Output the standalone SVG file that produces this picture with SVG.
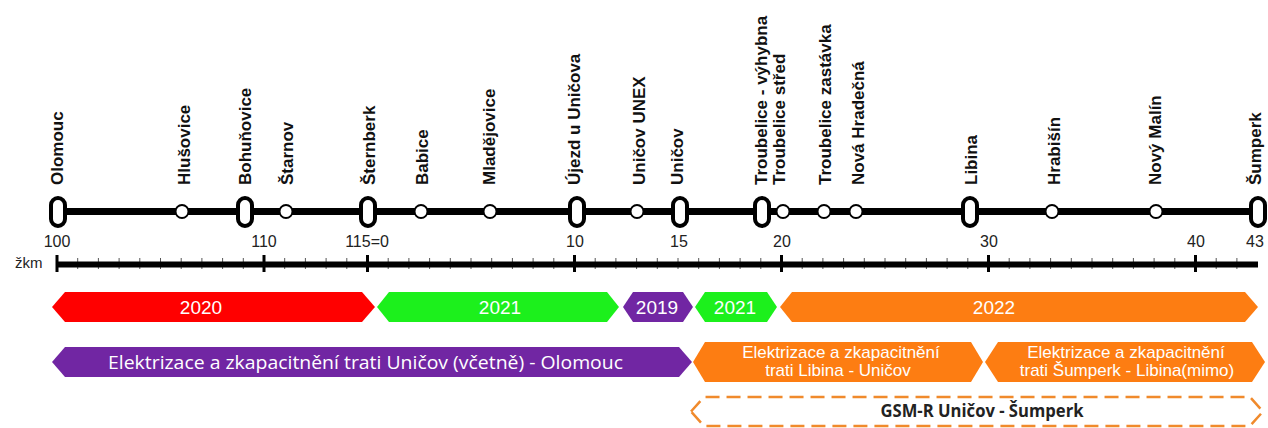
<svg xmlns="http://www.w3.org/2000/svg" width="1268" height="428" viewBox="0 0 1268 428">
<style>
.lbl{font-family:"Liberation Sans",Arial,sans-serif;font-weight:bold;font-size:17px;fill:#111}
.num{font-family:"Liberation Sans",Arial,sans-serif;font-size:16px;fill:#222;text-anchor:middle}
.oval{fill:#fff;stroke:#000;stroke-width:4}
.stop{fill:#fff;stroke:#000;stroke-width:2}
.yr{font-family:"Liberation Sans",Arial,sans-serif;font-size:19px;fill:#fff;text-anchor:middle}
.otx{font-family:"Liberation Sans",Arial,sans-serif;font-size:17px;fill:#fff;text-anchor:middle}
.red{fill:#ff0000}.grn{fill:#1cf01c}.pur{fill:#7126a3}.org{fill:#fd7d12}
.mj{stroke:#000;stroke-width:3}
.mn{stroke:#555;stroke-width:1}
</style>
<rect width="1268" height="428" fill="#fff"/>

<g id="connectors">
  <line x1="58" y1="211.5" x2="1258" y2="211.5" stroke="#000" stroke-width="7"/>
</g>

<g id="axis">
  <text x="15" y="268" style="font-family:'Liberation Sans',Arial,sans-serif;font-size:15px;fill:#222">žkm</text>
  <g id="minor-ticks">
    <path class="mn" d="M77.7 258V269M98.4 258V269M119.1 258V269M139.8 258V269M160.5 258V269M181.2 258V269M201.9 258V269M222.6 258V269M243.3 258V269M284.7 258V269M305.4 258V269M326.1 258V269M346.8 258V269M388.2 258V269M408.9 258V269M429.6 258V269M450.3 258V269M471 258V269M491.7 258V269M512.4 258V269M533.1 258V269M553.8 258V269M595.2 258V269M615.9 258V269M636.6 258V269M657.3 258V269M678 258V269M698.7 258V269M719.4 258V269M740.1 258V269M760.8 258V269M802.2 258V269M822.9 258V269M843.6 258V269M864.3 258V269M885 258V269M905.7 258V269M926.4 258V269M947.1 258V269M967.8 258V269M1009.2 258V269M1029.9 258V269M1050.6 258V269M1071.3 258V269M1092 258V269M1112.7 258V269M1133.4 258V269M1154.1 258V269M1174.8 258V269M1216.2 258V269M1236.9 258V269"/>
  </g>
  <line x1="57" y1="264.5" x2="1258" y2="264.5" stroke="#000" stroke-width="6"/>
  <path class="mj" d="M57 255V272M264 255V272M367.5 255V272M574.5 255V272M781.5 255V272M988.5 255V272M1195.5 255V272"/>
  <text class="num" x="57" y="247">100</text>
  <text class="num" x="264" y="247">110</text>
  <text class="num" x="367" y="247">115=0</text>
  <text class="num" x="575" y="247">10</text>
  <text class="num" x="679" y="247">15</text>
  <text class="num" x="782" y="247">20</text>
  <text class="num" x="989" y="247">30</text>
  <text class="num" x="1196" y="247">40</text>
  <text class="num" x="1255" y="247">43</text>
</g>

<g id="st-olomouc"><rect class="oval" x="51" y="198" width="14" height="28" rx="7"/><text class="lbl" transform="translate(63,185) rotate(-90)">Olomouc</text></g>
<g id="st-hlusovice"><circle class="stop" cx="182" cy="211.5" r="6.5"/><text class="lbl" transform="translate(190,185) rotate(-90)">Hlušovice</text></g>
<g id="st-bohunovice"><rect class="oval" x="238" y="198" width="14" height="28" rx="7"/><text class="lbl" transform="translate(251,185) rotate(-90)">Bohuňovice</text></g>
<g id="st-starnov"><circle class="stop" cx="286" cy="211.5" r="6.5"/><text class="lbl" transform="translate(293,185) rotate(-90)">Štarnov</text></g>
<g id="st-sternberk"><rect class="oval" x="361" y="198" width="14" height="28" rx="7"/><text class="lbl" transform="translate(375,185) rotate(-90)">Šternberk</text></g>
<g id="st-babice"><circle class="stop" cx="421" cy="211.5" r="6.5"/><text class="lbl" transform="translate(428,185) rotate(-90)">Babice</text></g>
<g id="st-mladejovice"><circle class="stop" cx="490" cy="211.5" r="6.5"/><text class="lbl" transform="translate(495,185) rotate(-90)">Mladějovice</text></g>
<g id="st-ujezd"><rect class="oval" x="570" y="198" width="14" height="28" rx="7"/><text class="lbl" transform="translate(580,185) rotate(-90)">Újezd u Uničova</text></g>
<g id="st-unicov-unex"><circle class="stop" cx="637" cy="211.5" r="6.5"/><text class="lbl" transform="translate(645,185) rotate(-90)">Uničov UNEX</text></g>
<g id="st-unicov"><rect class="oval" x="673" y="198" width="14" height="28" rx="7"/><text class="lbl" transform="translate(683,185) rotate(-90)">Uničov</text></g>
<g id="st-troubelice-vyhybna"><rect class="oval" x="755" y="198" width="14" height="28" rx="7"/><text class="lbl" transform="translate(767,185) rotate(-90)">Troubelice - výhybna</text></g>
<g id="st-troubelice-stred"><circle class="stop" cx="783" cy="211.5" r="6.5"/><text class="lbl" transform="translate(785,185) rotate(-90)">Troubelice střed</text></g>
<g id="st-troubelice-zastavka"><circle class="stop" cx="824" cy="211.5" r="6.5"/><text class="lbl" transform="translate(831,185) rotate(-90)">Troubelice zastávka</text></g>
<g id="st-nova-hradecna"><circle class="stop" cx="856" cy="211.5" r="6.5"/><text class="lbl" transform="translate(864,185) rotate(-90)">Nová Hradečná</text></g>
<g id="st-libina"><rect class="oval" x="963" y="198" width="14" height="28" rx="7"/><text class="lbl" transform="translate(977,185) rotate(-90)">Libina</text></g>
<g id="st-hrabisin"><circle class="stop" cx="1052" cy="211.5" r="6.5"/><text class="lbl" transform="translate(1060,185) rotate(-90)">Hrabišín</text></g>
<g id="st-novy-malin"><circle class="stop" cx="1156" cy="211.5" r="6.5"/><text class="lbl" transform="translate(1161,185) rotate(-90)">Nový Malín</text></g>
<g id="st-sumperk"><rect class="oval" x="1251" y="198" width="14" height="28" rx="7"/><text class="lbl" transform="translate(1261,185) rotate(-90)">Šumperk</text></g>

<g id="yr-2020"><polygon class="red" points="52,307 65,292 362,292 375,307 362,322 65,322"/><text class="yr" x="201" y="314">2020</text></g>
<g id="yr-2021a"><polygon class="grn" points="377,307 389,292 607,292 619,307 607,322 389,322"/><text class="yr" x="500" y="314">2021</text></g>
<g id="yr-2019"><polygon class="pur" points="623,307 633,292 683,292 693,307 683,322 633,322"/><text class="yr" x="657" y="314">2019</text></g>
<g id="yr-2021b"><polygon class="grn" points="695,307 705,292 767,292 777,307 767,322 705,322"/><text class="yr" x="735" y="314">2021</text></g>
<g id="yr-2022"><polygon class="org" points="780,307 792,292 1245,292 1258,307 1245,322 792,322"/><text class="yr" x="994" y="314">2022</text></g>

<g id="proj-olomouc"><polygon class="pur" points="52,362 65,347 679,347 692,362 679,377 65,377"/><text x="108" y="368.5" textLength="515" lengthAdjust="spacingAndGlyphs" style="font-family:'Open Sans','Noto Sans',sans-serif;font-size:18px;fill:#fff">Elektrizace a zkapacitnění trati Uničov (včetně) - Olomouc</text></g>
<g id="proj-libina"><polygon class="org" points="693,362 705,342 971,342 983,362 971,382 705,382"/><text class="otx" x="841" y="358">Elektrizace a zkapacitnění</text><text class="otx" x="838" y="376">trati Libina - Uničov</text></g>
<g id="proj-sumperk"><polygon class="org" points="985,362 998,342 1252,342 1265,362 1252,382 998,382"/><text class="otx" x="1126" y="358">Elektrizace a zkapacitnění</text><text class="otx" x="1127" y="376">trati Šumperk - Libina(mimo)</text></g>

<g id="proj-gsmr"><polygon points="691,411.5 704,397 1250,397 1263,411.5 1250,426 704,426" fill="#fff" stroke="#f08a2c" stroke-width="2.5" stroke-dasharray="14 7"/><text x="982" y="417" text-anchor="middle" textLength="203" lengthAdjust="spacingAndGlyphs" style="font-family:'Open Sans','Noto Sans',sans-serif;font-weight:bold;font-size:17px;fill:#222">GSM-R Uničov - Šumperk</text></g>
</svg>
